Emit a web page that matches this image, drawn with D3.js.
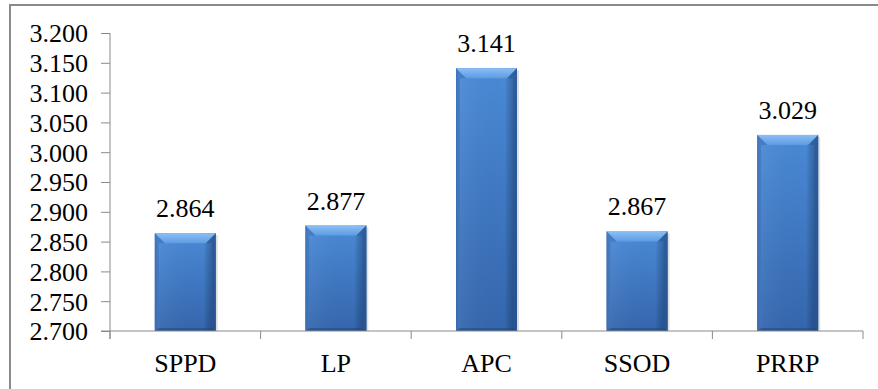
<!DOCTYPE html>
<html>
<head>
<meta charset="utf-8">
<script src="https://cdn.jsdelivr.net/npm/d3@7/dist/d3.min.js"></script>
<style>
  html, body { margin: 0; padding: 0; background: #fff; }
  svg { display: block; }
</style>
</head>
<body>
<svg id="chart" width="878" height="389"></svg>
<script>
// Mean scores per method
const categories = ["SPPD", "LP", "APC", "SSOD", "PRRP"];
const values = [2.864, 2.877, 3.141, 2.867, 3.029];
const yTicks = [2.70, 2.75, 2.80, 2.85, 2.90, 2.95, 3.00, 3.05, 3.10, 3.15, 3.20];

const FONT = '"Liberation Serif"';
const svg = d3.select("#chart");
const W = 878, H = 389;
const plot = { left: 110, right: 863, top: 33, bottom: 331 };

// outer frame
svg.append("rect")
  .attr("x", 10).attr("y", 5)
  .attr("width", W + 10).attr("height", H + 10)
  .attr("fill", "#fff").attr("stroke", "#8a8a8a").attr("stroke-width", 2);

const x = d3.scaleBand().domain(categories).range([plot.left, plot.right]).padding(0);
const y = d3.scaleLinear().domain([2.7, 3.2]).range([plot.bottom, plot.top]);

// gradients for the bevelled bars
const defs = svg.append("defs");
const face = defs.append("linearGradient").attr("id", "face").attr("x1", 0).attr("y1", 0).attr("x2", 0).attr("y2", 1);
face.append("stop").attr("offset", "0%").attr("stop-color", "#4a8ad7");
face.append("stop").attr("offset", "100%").attr("stop-color", "#3466ad");
const sideH = defs.append("linearGradient").attr("id", "sideShade").attr("x1", 0).attr("y1", 0).attr("x2", 1).attr("y2", 0);
sideH.append("stop").attr("offset", "0%").attr("stop-color", "#1f4f8f").attr("stop-opacity", 0.35);
sideH.append("stop").attr("offset", "8%").attr("stop-color", "#ffffff").attr("stop-opacity", 0.05);
sideH.append("stop").attr("offset", "80%").attr("stop-color", "#000000").attr("stop-opacity", 0.0);
sideH.append("stop").attr("offset", "100%").attr("stop-color", "#0d2f5e").attr("stop-opacity", 0.45);
const topG = defs.append("linearGradient").attr("id", "topBevel").attr("x1", 0).attr("y1", 0).attr("x2", 0).attr("y2", 1);
topG.append("stop").attr("offset", "0%").attr("stop-color", "#8cc0f5");
topG.append("stop").attr("offset", "100%").attr("stop-color", "#5d9be3");

const barFrac = 0.405;
const bw = x.bandwidth() * barFrac;
const bx = c => x(c) + (x.bandwidth() - bw) / 2;
const bevel = 10, sideB = 4;

const bars = svg.append("g").selectAll("g").data(categories).join("g");
bars.each(function (c, i) {
  const g = d3.select(this);
  const x0 = bx(c), x1 = x0 + bw;
  const y0 = y(values[i]), y1 = y(2.7);
  // soft shadow at right
  g.append("rect").attr("x", x0 + 2).attr("y", y0 + 2).attr("width", bw).attr("height", y1 - y0 - 2)
    .attr("fill", "#000").attr("opacity", 0.12);
  g.append("rect").attr("x", x0).attr("y", y0).attr("width", bw).attr("height", y1 - y0).attr("fill", "url(#face)");
  g.append("rect").attr("x", x0).attr("y", y0).attr("width", bw).attr("height", y1 - y0).attr("fill", "url(#sideShade)");
  // top bevel
  g.append("path")
    .attr("d", `M${x0},${y0}L${x1},${y0}L${x1 - sideB * 2.5},${y0 + bevel}L${x0 + sideB * 2.5},${y0 + bevel}Z`)
    .attr("fill", "url(#topBevel)");
  // right bevel (darker)
  g.append("path")
    .attr("d", `M${x1},${y0}L${x1},${y1}L${x1 - sideB},${y1 - 3}L${x1 - sideB},${y0 + bevel}L${x1 - sideB * 2.5},${y0 + bevel}Z`)
    .attr("fill", "#2a5896").attr("opacity", 0.55);
  // left bevel (lighter)
  g.append("path")
    .attr("d", `M${x0},${y0}L${x0 + sideB * 2.5},${y0 + bevel}L${x0 + sideB},${y0 + bevel}L${x0 + sideB},${y1 - 3}L${x0},${y1}Z`)
    .attr("fill", "#3a6fb8").attr("opacity", 0.6);
  // bottom bevel
  g.append("path")
    .attr("d", `M${x0},${y1}L${x1},${y1}L${x1 - sideB},${y1 - 3}L${x0 + sideB},${y1 - 3}Z`)
    .attr("fill", "#1f4a85").attr("opacity", 0.6);
});

// value labels
svg.append("g").selectAll("text").data(categories).join("text")
  .attr("x", c => x(c) + x.bandwidth() / 2)
  .attr("y", (c, i) => y(values[i]) - 16)
  .attr("text-anchor", "middle")
  .style("font-family", FONT).style("font-size", "26px").style("fill", "#000")
  .text((c, i) => d3.format(".3f")(values[i]));

// y axis
const yAxis = svg.append("g").attr("transform", `translate(${plot.left},0)`)
  .call(d3.axisLeft(y).tickValues(yTicks).tickSize(9).tickPadding(13).tickFormat(d3.format(".3f")));
yAxis.attr("font-family", null).attr("font-size", null);
yAxis.selectAll("text")
  .style("font-family", FONT).style("font-size", "26px").style("fill", "#000")
  .attr("dy", "0.34em");
yAxis.selectAll("line").attr("stroke", "#8a8a8a");
yAxis.select(".domain").attr("stroke", "#8a8a8a").attr("d", `M0,${plot.top}V${plot.bottom + 8}`);

// x axis
const xAxis = svg.append("g").attr("transform", `translate(0,${plot.bottom})`)
  .call(d3.axisBottom(x).tickSize(0).tickPadding(23));
xAxis.attr("font-family", null).attr("font-size", null);
xAxis.select(".domain").attr("stroke", "#8a8a8a").attr("d", `M${plot.left - 9},0H${plot.right}`);
xAxis.selectAll("text")
  .style("font-family", FONT).style("font-size", "26px").style("fill", "#000");
const bounds = categories.map(c => x(c)).concat([x.range()[1]]);
xAxis.selectAll("line.bound").data(bounds).join("line").attr("class", "bound")
  .attr("x1", d => d).attr("x2", d => d).attr("y1", 0).attr("y2", 8)
  .attr("stroke", "#8a8a8a");
</script>
</body>
</html>
